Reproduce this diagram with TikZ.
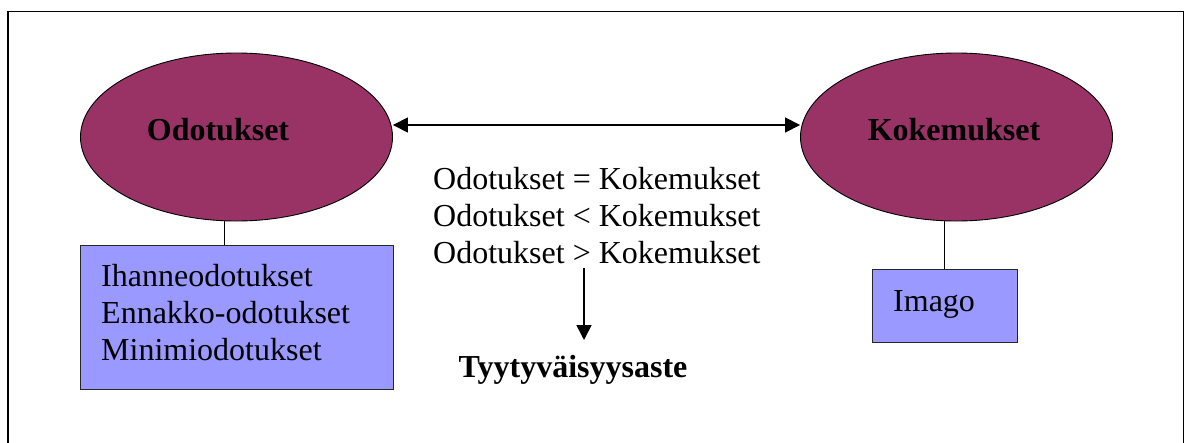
\documentclass[tikz,border=0pt]{standalone}
\usepackage{fontspec}
\setmainfont{Liberation Serif}
\usetikzlibrary{shapes.geometric,arrows.meta}
\definecolor{plum}{HTML}{993366}
\definecolor{periwinkle}{HTML}{9999FF}
\tikzset{
  oval/.style={ellipse, draw=black, line width=0.9pt, fill=plum, inner sep=0pt,
    minimum width=312pt, minimum height=168pt},
  listbox/.style={rectangle, draw=black!85, line width=1pt, fill=periwinkle, inner sep=0pt},
  txt/.style={font=\fontsize{32pt}{37pt}\selectfont, inner sep=0pt, anchor=base west},
  btxt/.style={font=\fontsize{32pt}{37pt}\selectfont\bfseries, inner sep=0pt},
  link/.style={line width=1pt},
  arr/.style={line width=1.6pt, -{Triangle[length=15pt,width=15pt]}},
  darr/.style={line width=1.6pt, {Triangle[length=15pt,width=15pt]}-{Triangle[length=15pt,width=15pt]}}
}
\begin{document}
\begin{tikzpicture}[x=1pt,y=-1pt]
\useasboundingbox[fill=white] (0,0) rectangle (1189,442);
% outer frame (open at the lower edge)
\draw[line width=1.4pt] (8,445) -- (8,11.5) -- (1183.7,11.5) -- (1183.7,445);

% the two ovals
\node[oval] (odo) at (236.5,137) {};
\node[oval] (kok) at (956.5,137) {};
\node[btxt] (odot) at (218,130) {Odotukset};
\node[btxt] (kokt) at (954,130) {Kokemukset};

% boxes below the ovals
\node[listbox, minimum width=313pt, minimum height=144pt] (lista) at (236.5,317) {};
\node[listbox, minimum width=145pt, minimum height=73pt] (imago) at (944.5,305.5) {};
\node[txt] (l1) at (101,286) {Ihanneodotukset};
\node[txt] (l2) at (101,323) {Ennakko-odotukset};
\node[txt] (l3) at (101,360) {Minimiodotukset};
\node[txt] (im) at (893,311) {Imago};

% connectors
\draw[link] (odo.south -| 224,0) -- (lista.north -| 224,0);
\draw[link] (kok.south -| 944,0) -- (imago.north -| 944,0);
\draw[darr] (odo.east |- 0,125) -- (kok.west |- 0,125);

% comparison lines
\node[txt] (c1) at (433,189) {Odotukset = Kokemukset};
\node[txt] (c2) at (433,226) {Odotukset < Kokemukset};
\node[txt] (c3) at (433,263) {Odotukset > Kokemukset};

\node[btxt] (tyy) at (573,370) {Tyytyväisyysaste};
\coordinate (dtop) at (584,268);
\coordinate (dbot) at (584,340);
\draw[arr] (dtop) -- (dbot);
\end{tikzpicture}
\end{document}
